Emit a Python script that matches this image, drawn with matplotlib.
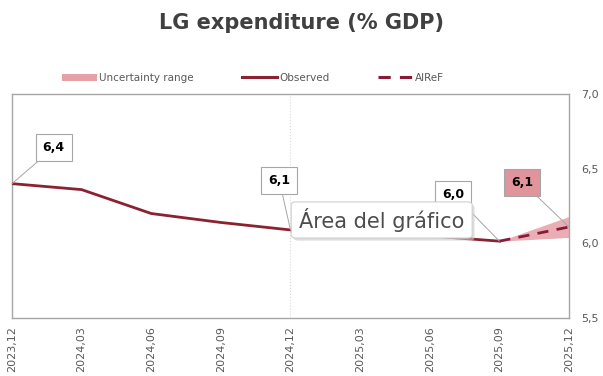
import matplotlib.pyplot as plt
import numpy as np
from matplotlib.patches import FancyBboxPatch, Patch
from matplotlib.lines import Line2D

# quarterly local government expenditure, % of GDP
periods = ["2023,12", "2024,03", "2024,06", "2024,09", "2024,12",
           "2025,03", "2025,06", "2025,09", "2025,12"]
observed = [6.40, 6.36, 6.20, 6.14, 6.09, 6.07, 6.05, 6.015]
forecast = [6.015, 6.11]          # AIReF, 2025,09 -> 2025,12
band_low = [6.015, 6.04]
band_high = [6.015, 6.18]

dark_red = "#8b2232"
fc_red = "#8b1a3a"
pink = "#e6a0a8"
grey = "#a6a6a6"

fig = plt.figure(figsize=(6.03, 3.76), dpi=100)
ax = fig.add_axes([0.0199, 0.154, 0.9237, 0.596])

x = np.arange(len(periods))
xo = x[:len(observed)]
xf = x[len(observed) - 1:]

ax.fill_between(xf, band_low, band_high, color=pink, alpha=0.85, lw=0, zorder=2)
ax.plot(xo, observed, color=dark_red, lw=2.0, zorder=3)
ax.plot(xf, forecast, color=fc_red, lw=2.0, ls=(0, (4, 3)), zorder=3)

ax.axvline(4, color="#d9d9d9", lw=0.8, ls=":", zorder=1)

ax.set_xlim(0, len(periods) - 1)
ax.set_ylim(5.5, 7.0)
ax.set_xticks(x)
ax.set_xticklabels(periods, rotation=90, color="#595959", fontsize=8)
ax.yaxis.tick_right()
ax.set_yticks([5.5, 6.0, 6.5, 7.0])
ax.set_yticklabels(["5,5", "6,0", "6,5", "7,0"], color="#595959", fontsize=8)
ax.tick_params(axis="x", length=0, pad=6)
ax.tick_params(axis="y", length=0, pad=9)
for s in ax.spines.values():
    s.set_color(grey)
    s.set_linewidth(1)


def fmt(v):
    return f"{v:.1f}".replace(".", ",")


def label(xi, yi, tx, ty, fc="white"):
    ax.annotate(fmt(yi), xy=(xi, yi), xytext=(tx, ty), textcoords="data",
                ha="center", va="center", fontsize=9, fontweight="bold",
                bbox=dict(boxstyle="square,pad=0.55", fc=fc, ec=grey, lw=0.8),
                arrowprops=dict(arrowstyle="-", color=grey, lw=0.7,
                                shrinkA=0, shrinkB=0), zorder=5)


label(0, observed[0], 0.60, 6.64)
label(4, observed[4], 3.84, 6.42)
label(7, observed[-1], 6.34, 6.33)
label(8, forecast[-1], 7.33, 6.41, fc="#e0949c")

# legend
handles = [Patch(fc=pink, ec="none"),
           Line2D([], [], color=dark_red, lw=2.2),
           Line2D([], [], color=fc_red, lw=2.2, ls=(0, (4, 3)))]
fig.legend(handles, ["Uncertainty range", "Observed", "AIReF"],
           loc="center left", bbox_to_anchor=(0.094, 0.793), ncol=3, frameon=False,
           fontsize=7.5, handlelength=3.4, handletextpad=0.2, columnspacing=4.6,
           borderpad=0, labelcolor="#595959")

fig.text(0.5, 0.94, "LG expenditure (% GDP)", ha="center", va="center",
         fontsize=15, fontweight="bold", color="#404040")

# chart area tooltip
shadow = FancyBboxPatch((0.487, 0.36), 0.3, 0.096, boxstyle="round,pad=0,rounding_size=0.008",
                        transform=fig.transFigure, fc="#c8c8c8", ec="none", alpha=0.6, zorder=9)
tip = FancyBboxPatch((0.483, 0.367), 0.3, 0.096, boxstyle="round,pad=0,rounding_size=0.008",
                     transform=fig.transFigure, fc="white", ec="#d0d0d0", lw=0.8, zorder=10)
fig.patches.extend([shadow, tip])
fig.text(0.633, 0.415, "Área del gráfico", ha="center", va="center",
         fontsize=15, color="#4d4d4d", zorder=11)

fig.savefig("out.png", dpi=100)
